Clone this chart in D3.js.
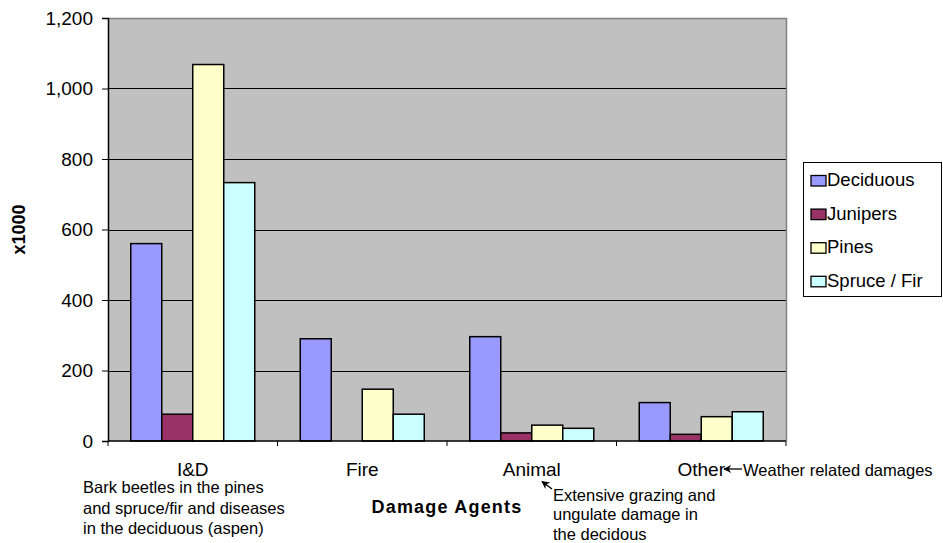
<!DOCTYPE html>
<html><head><meta charset="utf-8">
<script src="https://cdn.jsdelivr.net/npm/d3@7"></script>
<style>
html,body{margin:0;padding:0;background:#fff;}
text{font-family:"Liberation Sans",Arial,sans-serif;fill:#000;}
</style></head>
<body>
<svg id="c" width="943" height="543"></svg>
<script>
const categories = ["I&D", "Fire", "Animal", "Other"];
const seriesNames = ["Deciduous", "Junipers", "Pines", "Spruce / Fir"];
const seriesColors = ["#9999FF", "#993366", "#FFFFCC", "#CCFFFF"];
const deciduous = [560, 290, 296, 109];
const junipers = [76, 0, 23, 19];
const pines = [1068, 147, 45, 69];
const spruceFir = [733, 76, 36, 83];
const yTicks = [0, 200, 400, 600, 800, 1000, 1200];
const annotationID = ["Bark beetles in the pines", "and spruce/fir and diseases", "in the deciduous (aspen)"];
const annotationAnimal = ["Extensive grazing and", "ungulate damage in", "the decidous"];
const annotationOther = "Weather related damages";

const values = [deciduous, junipers, pines, spruceFir];
const svg = d3.select("#c");
const L = 108, R = 786, T = 18, B = 441;

const defs = svg.append("defs");
defs.append("marker").attr("id","ah").attr("viewBox","0 0 10 10").attr("refX",9).attr("refY",5)
  .attr("markerUnits","userSpaceOnUse").attr("markerWidth",9).attr("markerHeight",8).attr("orient","auto")
  .append("path").attr("d","M10,5 L0,0 L3,5 L0,10 Z").attr("fill","#000");

const x0 = d3.scaleBand().domain(categories).range([L, R]).paddingInner(0).paddingOuter(0);
const x1 = d3.scaleBand().domain(seriesNames).range([0, x0.bandwidth()]).paddingInner(0).paddingOuter(0.734);
const y = d3.scaleLinear().domain([0, 1200]).range([B, T]);

// plot background
svg.append("rect").attr("x", L).attr("y", T).attr("width", R - L).attr("height", B - T).attr("fill", "#C0C0C0");

// gridlines
svg.append("g").selectAll("line").data(yTicks.filter(d => d > 0 && d < 1200)).join("line")
  .attr("x1", L).attr("x2", R).attr("y1", d => Math.round(y(d)) + 0.5).attr("y2", d => Math.round(y(d)) + 0.5)
  .attr("stroke", "#000").attr("stroke-width", 1);

// top and right border
svg.append("path").attr("d", `M${L},${T+0.5} H${R+0.5} V${B}`).attr("fill","none").attr("stroke","#808080").attr("stroke-width",1.5);

// bars
const g = svg.append("g");
categories.forEach((c, ci) => {
  seriesNames.forEach((s, si) => {
    const v = values[si][ci];
    if (v <= 0) return;
    g.append("rect")
      .attr("x", x0(c) + x1(s)).attr("width", x1.bandwidth())
      .attr("y", y(v)).attr("height", y(0) - y(v))
      .attr("fill", seriesColors[si]).attr("stroke", "#000").attr("stroke-width", 1.5);
  });
});

// y axis
const yAxis = d3.axisLeft(y).tickValues(yTicks).tickSize(6).tickPadding(9).tickFormat(d3.format(","));
const ya = svg.append("g").attr("transform", `translate(${L},0)`).call(yAxis);
ya.select(".domain").attr("stroke", "#000").attr("stroke-width", 1.5);
ya.selectAll(".tick line").attr("stroke", "#000");
ya.selectAll(".tick text").attr("font-size", 19).attr("font-family", "Liberation Sans, Arial, sans-serif").attr("fill","#000");

// x axis
const xa = svg.append("g").attr("transform", `translate(0,${B})`);
xa.append("line").attr("x1", L).attr("x2", R).attr("y1", 0).attr("y2", 0).attr("stroke", "#000").attr("stroke-width", 1.5);
const bounds = categories.map(c => x0(c)).concat([R]);
xa.selectAll("line.tk").data(bounds).join("line").attr("class","tk")
  .attr("x1", d => d).attr("x2", d => d).attr("y1", 0).attr("y2", 5).attr("stroke", "#000");
xa.selectAll("text.cat").data(categories).join("text").attr("class","cat")
  .attr("x", d => x0(d) + x0.bandwidth() / 2).attr("y", 35)
  .attr("text-anchor", "middle").attr("font-size", 19).text(d => d);

// axis titles
svg.append("text").attr("transform", `translate(25,${(T + B) / 2}) rotate(-90)`)
  .attr("text-anchor", "middle").attr("font-size", 18).attr("font-weight", "bold").text("x1000");
svg.append("text").attr("x", (L + R) / 2).attr("y", 513).attr("text-anchor", "middle")
  .attr("font-size", 18).attr("font-weight", "bold").attr("letter-spacing", 1.2).text("Damage Agents");

// annotations
const tID = svg.append("text").attr("font-size", 16.5);
annotationID.forEach((t, i) => tID.append("tspan").attr("x", 83).attr("y", 493 + i * 20.5).text(t));
const tAn = svg.append("text").attr("font-size", 16.5);
annotationAnimal.forEach((t, i) => tAn.append("tspan").attr("x", 553).attr("y", 500.5 + i * 19.8).text(t));
svg.append("line").attr("x1", 552).attr("y1", 489).attr("x2", 542).attr("y2", 481.5)
  .attr("stroke", "#000").attr("stroke-width", 1.3).attr("marker-end", "url(#ah)");
svg.append("text").attr("x", 743).attr("y", 475.5).attr("font-size", 16.5).text(annotationOther);
svg.append("line").attr("x1", 742).attr("y1", 469).attr("x2", 724).attr("y2", 469)
  .attr("stroke", "#000").attr("stroke-width", 1.3).attr("marker-end", "url(#ah)");

// legend
const lg = svg.append("g");
lg.append("rect").attr("x", 803.5).attr("y", 162.5).attr("width", 138).attr("height", 134)
  .attr("fill", "#fff").attr("stroke", "#000").attr("stroke-width", 1);
seriesNames.forEach((s, i) => {
  const by = 186 + i * 33.6;
  lg.append("rect").attr("x", 811).attr("y", by - 10.5).attr("width", 15).attr("height", 10.5)
    .attr("fill", seriesColors[i]).attr("stroke", "#000").attr("stroke-width", 1.3);
  lg.append("text").attr("x", 827).attr("y", by).attr("font-size", 18.5).text(s);
});
</script>
</body></html>
